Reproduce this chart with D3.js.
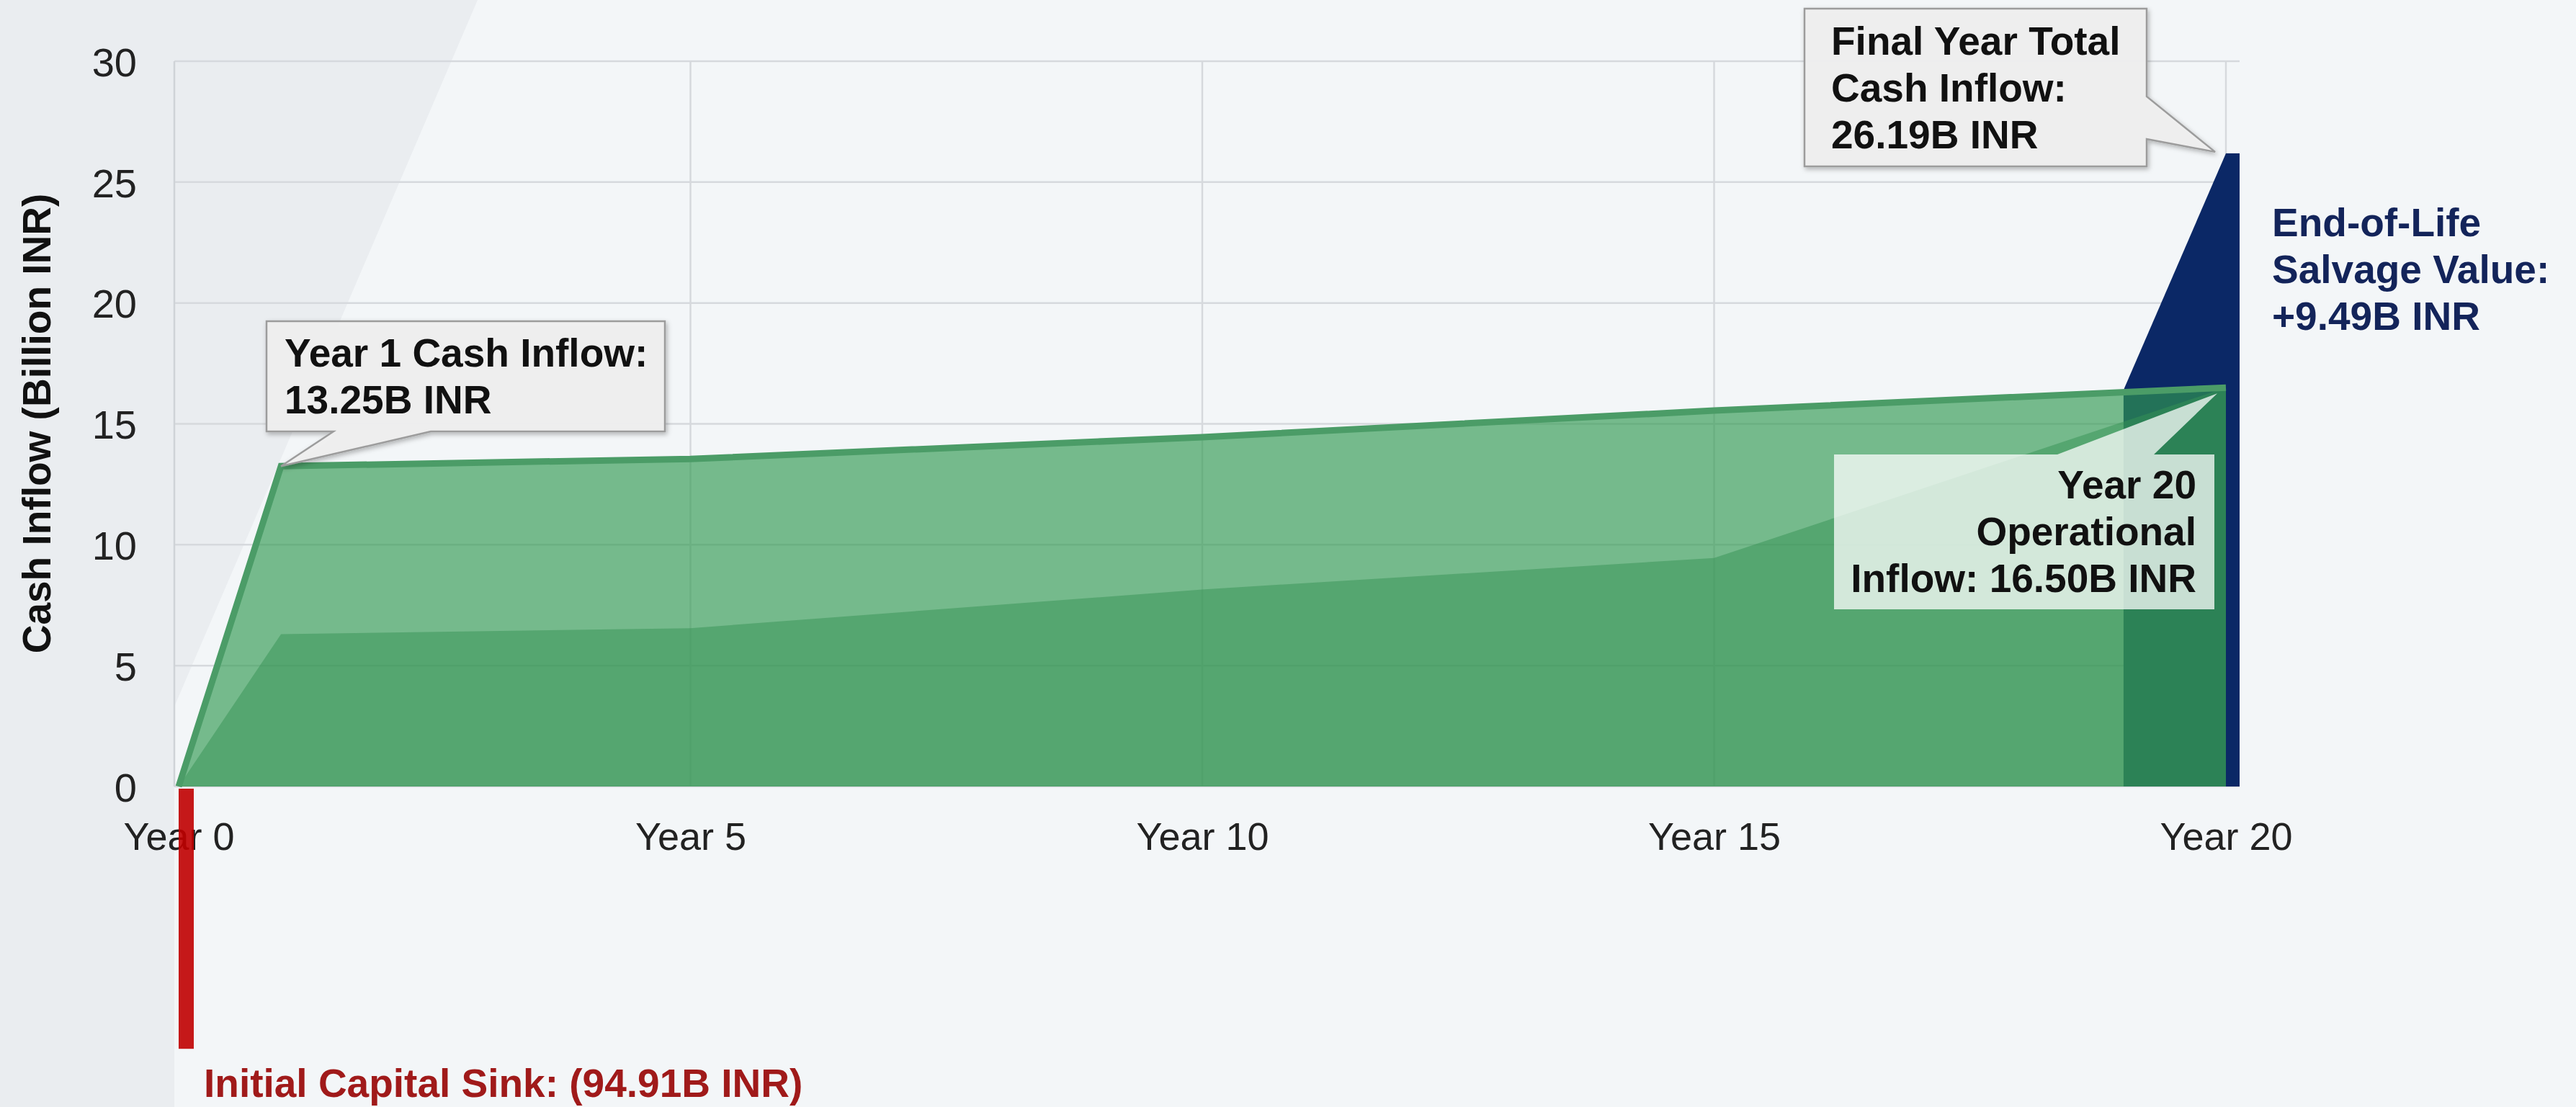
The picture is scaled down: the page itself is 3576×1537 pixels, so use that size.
<!DOCTYPE html>
<html>
<head>
<meta charset="utf-8">
<script src="https://cdn.jsdelivr.net/npm/d3@7"></script>
<style>
  html, body { margin: 0; padding: 0; background: #eceff2; }
  svg { display: block; }
  text { font-family: "Liberation Sans", Arial, Helvetica, sans-serif; }
</style>
</head>
<body>
<svg id="chart" width="3576" height="1537"></svg>
<script>
// ---- Data (Billion INR) ----
const years             = [0, 1, 5, 10, 15, 20];
const operationalInflow = [0, 13.25, 13.55, 14.45, 15.55, 16.50];
const baseInflow        = [0, 6.30, 6.55, 8.15, 9.45, 16.50];
const totalYears        = [19, 20];
const totalInflow       = [16.40, 26.19];
const salvageValue      = 9.49;
const capitalSink       = -94.91;
const sinkDisplayFloor  = -10.85;   // the capital bar is cut off at this level
const yTickValues       = [0, 5, 10, 15, 20, 25, 30];
const xTickYears        = [0, 5, 10, 15, 20];
const xTickLabels       = ["Year 0", "Year 5", "Year 10", "Year 15", "Year 20"];

// ---- Layout ----
const W = 3576, H = 1537;
const plotLeft = 242, plotRight = 3109, plotTop = 85, plotBottom = 1092;
const barWidth = 21;
const FONT = 55;

const svg = d3.select("#chart");

const x = d3.scaleLinear().domain([0, 20]).range([248, 3090]);
const y = d3.scaleLinear().domain([0, 30]).range([plotBottom, plotTop]);

// Background: grey page with a lighter sweep across the plot
svg.append("rect").attr("width", W).attr("height", H).attr("fill", "#eaedf0");
svg.append("path")
  .attr("d", "M663,0 L395,625 L242,981 L242,1537 L3576,1537 L3576,0 Z")
  .attr("fill", "#f3f6f8");

const defs = svg.append("defs");
const shadow = defs.append("filter").attr("id", "calloutShadow")
  .attr("x", "-10%").attr("y", "-10%").attr("width", "130%").attr("height", "140%");
shadow.append("feDropShadow").attr("dx", 2).attr("dy", 3).attr("stdDeviation", 3)
  .attr("flood-color", "#000").attr("flood-opacity", 0.28);

// ---- Grid ----
const grid = svg.append("g");
grid.selectAll("line.h").data(yTickValues).join("line")
  .attr("x1", plotLeft).attr("x2", plotRight)
  .attr("y1", d => y(d)).attr("y2", d => y(d))
  .attr("stroke", "#d6d9dd").attr("stroke-width", 2.5);
grid.selectAll("line.v").data(xTickYears.slice(1)).join("line")
  .attr("x1", d => x(d)).attr("x2", d => x(d))
  .attr("y1", y(30)).attr("y2", y(0))
  .attr("stroke", "#d6d9dd").attr("stroke-width", 2.5);
grid.append("line")
  .attr("x1", plotLeft).attr("x2", plotLeft).attr("y1", y(30)).attr("y2", y(0))
  .attr("stroke", "#cfd3d7").attr("stroke-width", 2.5);

// ---- Axes ----
const yAxis = svg.append("g")
  .attr("transform", `translate(${plotLeft},0)`)
  .call(d3.axisLeft(y).tickValues(yTickValues).tickSize(0).tickPadding(52));
yAxis.select(".domain").remove();
yAxis.selectAll("text")
  .attr("font-size", 56).attr("fill", "#222").attr("font-family", "Liberation Sans, Arial, sans-serif")
  .attr("dy", "0.36em");

const xAxis = svg.append("g")
  .attr("transform", `translate(0,${y(0)})`)
  .call(d3.axisBottom(x).tickValues(xTickYears).tickSize(0).tickPadding(50)
    .tickFormat((d, i) => xTickLabels[i]));
xAxis.select(".domain").remove();
xAxis.selectAll("text")
  .attr("font-size", 54).attr("fill", "#222").attr("font-family", "Liberation Sans, Arial, sans-serif");

svg.append("text")
  .attr("transform", "translate(70,588) rotate(-90)")
  .attr("text-anchor", "middle")
  .attr("font-size", FONT).attr("font-weight", "bold").attr("fill", "#111")
  .text("Cash Inflow (Billion INR)");

// ---- Salvage (total final-year inflow) in navy ----
const navy = "#0b2866";
const totalArea = d3.area()
  .x((d, i) => x(totalYears[i]))
  .y0(y(0))
  .y1(d => y(d));
svg.append("path").attr("d", totalArea(totalInflow)).attr("fill", navy);
svg.append("rect")
  .attr("x", x(20)).attr("width", barWidth - 2)
  .attr("y", y(totalInflow[1])).attr("height", y(0) - y(totalInflow[1]))
  .attr("fill", navy);

// ---- Operating cash inflow areas ----
const areaGen = d3.area()
  .x((d, i) => x(years[i]))
  .y0(y(0))
  .y1(d => y(d));
svg.append("path").attr("d", areaGen(operationalInflow))
  .attr("fill", "#319a52").attr("fill-opacity", 0.65);
svg.append("path").attr("d", areaGen(baseInflow))
  .attr("fill", "#359254").attr("fill-opacity", 0.5);
svg.append("path")
  .attr("d", d3.line().x((d, i) => x(years[i])).y(d => y(d))(operationalInflow))
  .attr("fill", "none").attr("stroke", "#4b9c67").attr("stroke-width", 9)
  .attr("stroke-linejoin", "miter");

// ---- Initial capital bar (truncated) ----
const sinkShown = Math.max(capitalSink, sinkDisplayFloor);
svg.append("rect")
  .attr("x", x(0)).attr("width", barWidth)
  .attr("y", y(0) + 3).attr("height", y(sinkShown) - y(0) - 3)
  .attr("fill", "#c00000").attr("fill-opacity", 0.9);
svg.append("text")
  .attr("x", 283).attr("y", 1523)
  .attr("font-size", FONT).attr("font-weight", "bold").attr("fill", "#a01a1a")
  .text(`Initial Capital Sink: (${Math.abs(capitalSink).toFixed(2)}B INR)`);

// ---- Salvage label ----
const salvageLines = ["End-of-Life", "Salvage Value:", `+${salvageValue.toFixed(2)}B INR`];
svg.append("text")
  .attr("font-size", FONT).attr("font-weight", "bold").attr("fill", "#13245a")
  .selectAll("tspan").data(salvageLines).join("tspan")
  .attr("x", 3154).attr("y", (d, i) => 328 + i * 65)
  .text(d => d);

// ---- Callouts ----
function calloutPath(b, side, p1, p2, tip) {
  const [tx, ty] = tip;
  if (side === "bottom") {
    return `M${b.x0},${b.y0} H${b.x1} V${b.y1} H${p2} L${tx},${ty} L${p1},${b.y1} H${b.x0} Z`;
  }
  if (side === "right") {
    return `M${b.x0},${b.y0} H${b.x1} V${p1} L${tx},${ty} L${b.x1},${p2} V${b.y1} H${b.x0} Z`;
  }
  // top
  return `M${b.x0},${b.y0} H${p1} L${tx},${ty} L${p2},${b.y0} H${b.x1} V${b.y1} H${b.x0} Z`;
}

const callouts = [
  {
    box: { x0: 370, y0: 446, x1: 923, y1: 599 }, side: "bottom", p1: 463, p2: 598,
    tip: [x(1), y(operationalInflow[1])],
    lines: ["Year 1 Cash Inflow:", `${operationalInflow[1].toFixed(2)}B INR`],
    anchor: "start", tx: 395, ty0: 509,
    fill: "#efefef", fillOpacity: 0.96, stroke: "#9c9c9c", shadow: true
  },
  {
    box: { x0: 2505, y0: 12, x1: 2980, y1: 231 }, side: "right", p1: 134, p2: 193,
    tip: [x(20) - 15, y(totalInflow[1]) - 2],
    lines: ["Final Year Total", "Cash Inflow:", `${totalInflow[1].toFixed(2)}B INR`],
    anchor: "start", tx: 2542, ty0: 76,
    fill: "#efefef", fillOpacity: 0.96, stroke: "#9c9c9c", shadow: true
  },
  {
    box: { x0: 2546, y0: 631, x1: 3074, y1: 846 }, side: "top", p1: 2856, p2: 2990,
    tip: [x(20) - 12, y(operationalInflow[5]) + 8],
    lines: ["Year 20", "Operational", `Inflow: ${operationalInflow[5].toFixed(2)}B INR`],
    anchor: "end", tx: 3049, ty0: 692,
    fill: "#ffffff", fillOpacity: 0.74, stroke: "none", shadow: false
  }
];

callouts.forEach(c => {
  const g = svg.append("g");
  g.append("path")
    .attr("d", calloutPath(c.box, c.side, c.p1, c.p2, c.tip))
    .attr("fill", c.fill).attr("fill-opacity", c.fillOpacity)
    .attr("stroke", c.stroke).attr("stroke-width", 2.5)
    .attr("filter", c.shadow ? "url(#calloutShadow)" : null);
  g.append("text")
    .attr("text-anchor", c.anchor)
    .attr("font-size", FONT).attr("font-weight", "bold").attr("fill", "#111")
    .selectAll("tspan").data(c.lines).join("tspan")
    .attr("x", c.tx).attr("y", (d, i) => c.ty0 + i * 65)
    .text(d => d);
});
</script>
</body>
</html>
